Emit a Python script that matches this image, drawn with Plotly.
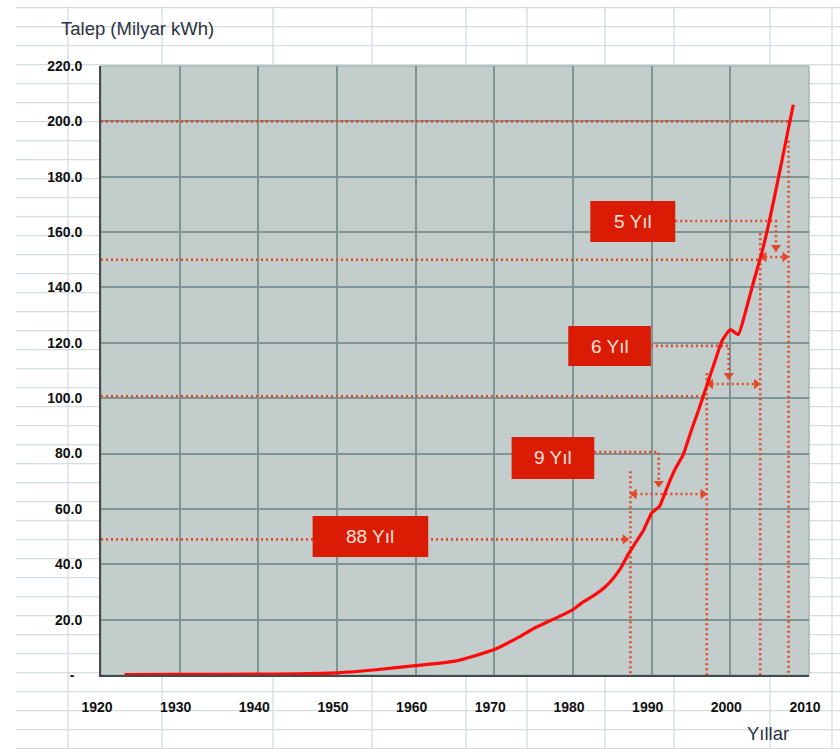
import plotly.graph_objects as go

# ---------------- data ----------------
years = [1923, 1930, 1940, 1945, 1950, 1955, 1960, 1965, 1970, 1973, 1975, 1978,
         1980, 1981, 1982, 1983, 1984, 1985, 1986, 1987, 1988, 1989, 1990, 1991,
         1992, 1993, 1994, 1995, 1996, 1997, 1998, 1999, 2000, 2001, 2002, 2003,
         2004, 2005, 2006, 2007, 2008]
demand = [0.1, 0.2, 0.3, 0.4, 0.8, 1.9, 3.4, 5.0, 9.2, 13.5, 16.8, 20.8,
          23.6, 25.8, 27.6, 29.4, 31.6, 34.5, 38.3, 43.5, 48.0, 52.5, 58.5, 61.0,
          68.0, 74.5, 79.5, 88.0, 96.0, 104.5, 113.0, 121.0, 124.8, 123.0, 132.0, 142.5,
          152.5, 164.5, 178.0, 192.0, 206.0]

x_ticks = list(range(1920, 2011, 10))
y_ticks = list(range(0, 221, 20))
y_tick_text = ["-\u00a0\u00a0"] + [f"{v:.1f}" for v in y_ticks[1:]]

# threshold guides (50 / 100 / 150 / 200 billion kWh)
thresholds = [49.0, 100.7, 150.0, 200.0]
threshold_line_end = [1987.1, 1996.9, 2003.8, 2007.5]
cross_years = [1987.3, 1997.0, 2003.8, 2007.4]
vertical_tops = [73.6, 109.0, 159.6, 193.0]

# gap labels and their boxes
gap_labels = ["88 Yıl", "9 Yıl", "6 Yıl", "5 Yıl"]
box_x0 = [1946.9, 1972.2, 1979.4, 1982.2]
box_x1 = [1961.6, 1982.7, 1989.9, 1993.0]
box_y0 = [42.6, 70.8, 111.6, 156.4]
box_y1 = [57.4, 86.0, 126.1, 171.2]
leader_y = [None, 80.5, 118.9, 164.0]
elbow_x = [None, 1990.9, 1999.8, 2005.8]
drop_tip = [None, 67.8, 106.8, 153.0]
bracket_y = [None, 65.4, 105.1, 151.0]

# ---------------- styles ----------------
DOT = "#E2482A"
BOX = "#DB1C04"
CURVE = "#FF0A0A"
PLOT_BG = "#C3CDCC"
GRID = "#7E9593"
SHEET = "#D3DEE0"

W, H = 840, 749
L, R, T, B = 101, 809, 66, 675


def px_x(px):
    return (px - L) / (R - L)


def px_y(py):
    return (B - py) / (B - T)


fig = go.Figure()

# dotted guide lines
gx, gy = [], []
for i in range(4):
    gx += [1920, threshold_line_end[i], None]
    gy += [thresholds[i], thresholds[i], None]
    gx += [cross_years[i], cross_years[i], None]
    gy += [vertical_tops[i], 0, None]
for i in range(1, 4):
    gx += [box_x1[i], elbow_x[i], elbow_x[i], None]
    gy += [leader_y[i], leader_y[i], drop_tip[i], None]
    gx += [cross_years[i - 1], cross_years[i], None]
    gy += [bracket_y[i], bracket_y[i], None]
fig.add_trace(go.Scatter(x=gx, y=gy, mode="lines",
                         line=dict(color=DOT, width=2.6, dash="2px,3px"),
                         hoverinfo="skip", showlegend=False))

# arrow heads
hs, vs = 0.5, 1.5
ax_r = [threshold_line_end[0] - hs] + [cross_years[i] - hs for i in range(1, 4)]
ay_r = [thresholds[0]] + [bracket_y[i] for i in range(1, 4)]
ax_l = [cross_years[i - 1] + hs for i in range(1, 4)]
ay_l = [bracket_y[i] for i in range(1, 4)]
ax_d = [elbow_x[i] for i in range(1, 4)]
ay_d = [drop_tip[i] + vs for i in range(1, 4)]
for xs, ys, sym in [(ax_r, ay_r, "triangle-right"), (ax_l, ay_l, "triangle-left"),
                    (ax_d, ay_d, "triangle-down")]:
    fig.add_trace(go.Scatter(x=xs, y=ys, mode="markers",
                             marker=dict(symbol=sym, size=9, color=DOT),
                             hoverinfo="skip", showlegend=False))

# demand curve
fig.add_trace(go.Scatter(x=years, y=demand, mode="lines",
                         line=dict(color=CURVE, width=3.2, shape="spline", smoothing=0.5),
                         showlegend=False))

shapes = []
# spreadsheet background grid
row_y = [7.7 + 19 * k for k in range(40)]
col_x = [68, 162, 273, 372, 466, 527, 605, 674, 770, 832]
for y in row_y:
    shapes.append(dict(type="line", xref="paper", yref="paper", layer="below",
                       x0=px_x(16), x1=px_x(W), y0=px_y(y), y1=px_y(y),
                       line=dict(color=SHEET, width=1.3)))
for x in col_x:
    shapes.append(dict(type="line", xref="paper", yref="paper", layer="below",
                       x0=px_x(x), x1=px_x(x), y0=px_y(7), y1=px_y(H),
                       line=dict(color=SHEET, width=1.3)))
# plot area
shapes.append(dict(type="rect", xref="paper", yref="paper", layer="below",
                   x0=0, x1=1, y0=0, y1=1, fillcolor=PLOT_BG,
                   line=dict(color="#A9B5B4", width=1.5)))
# label boxes
for i in range(4):
    shapes.append(dict(type="rect", xref="x", yref="y", layer="above",
                       x0=box_x0[i], x1=box_x1[i], y0=box_y0[i], y1=box_y1[i],
                       fillcolor=BOX, line=dict(width=0)))

annotations = []
for i in range(4):
    annotations.append(dict(x=(box_x0[i] + box_x1[i]) / 2, y=(box_y0[i] + box_y1[i]) / 2,
                            xref="x", yref="y", text=gap_labels[i], showarrow=False,
                            font=dict(family="Liberation Sans, Arial", size=19, color="#FFE2DC")))
annotations.append(dict(x=px_x(59), y=px_y(29), xref="paper", yref="paper",
                        xanchor="left", yanchor="middle", showarrow=False,
                        text="Talep (Milyar kWh)",
                        font=dict(family="Liberation Sans, Arial", size=18.5, color="#2B3344")))
annotations.append(dict(x=px_x(745), y=px_y(733), xref="paper", yref="paper",
                        xanchor="left", yanchor="middle", showarrow=False,
                        text="Yıllar",
                        font=dict(family="Liberation Sans, Arial", size=18.5, color="#2B3344")))

fig.update_layout(
    width=W, height=H,
    margin=dict(l=L, r=W - R, t=T, b=H - B),
    paper_bgcolor="white", plot_bgcolor="rgba(0,0,0,0)",
    shapes=shapes, annotations=annotations,
    font=dict(family="Liberation Sans, Arial", color="#111111"),
)
fig.update_xaxes(range=[1920, 2010], tickvals=x_ticks, ticktext=[str(v) for v in x_ticks],
                 showgrid=True, gridcolor=GRID, gridwidth=1.6, zeroline=False,
                 showline=True, linecolor="#3E4C4A", linewidth=2,
                 ticks="", ticklabelstandoff=18, ticklabelshift=-4,
                 tickfont=dict(size=14, family="Liberation Sans, Arial", color="#111111",
                               weight="bold"))
fig.update_yaxes(range=[0, 220], tickvals=y_ticks, ticktext=y_tick_text,
                 showgrid=True, gridcolor=GRID, gridwidth=1.6, zeroline=False,
                 showline=True, linecolor="#3E4C4A", linewidth=2,
                 ticks="", ticklabelstandoff=14,
                 tickfont=dict(size=14, family="Liberation Sans, Arial", color="#111111",
                               weight="bold"))

fig.write_html("out.html")
